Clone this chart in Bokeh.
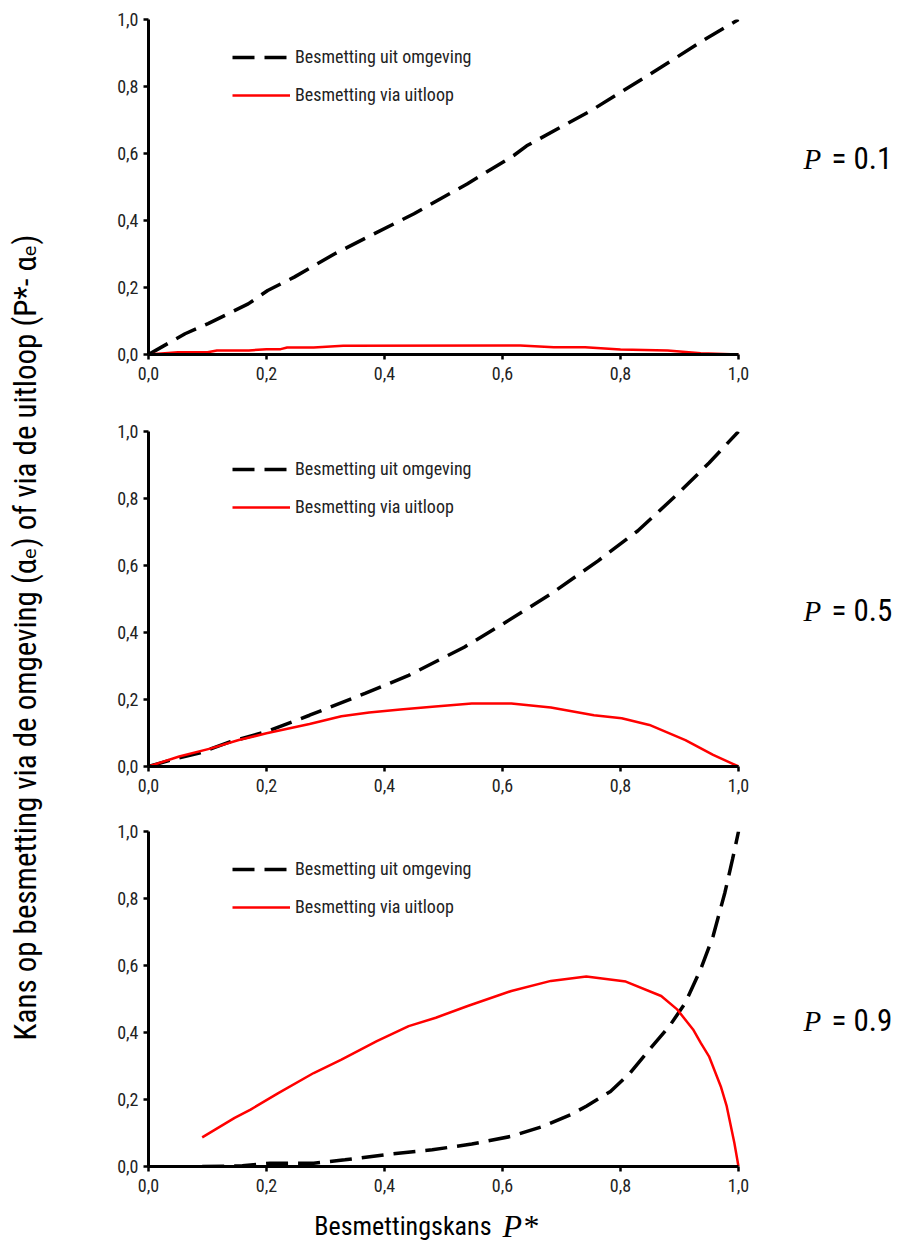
import math
from bokeh.plotting import figure
from bokeh.layouts import row, column
from bokeh.models import Range1d, FixedTicker, Label, Legend, LegendItem
from bokeh.embed import file_html
from bokeh.resources import INLINE

FONT = "Roboto Condensed, DejaVu Sans Condensed, Liberation Sans Narrow, Roboto, sans-serif"
SERIF = "Liberation Serif"

# ---------------- data ----------------
TICKS = [0.0, 0.2, 0.4, 0.6, 0.8, 1.0]
TICK_LABELS = ["0,0", "0,2", "0,4", "0,6", "0,8", "1,0"]

SERIES_ENV = "Besmetting uit omgeving"
SERIES_RUN = "Besmetting via uitloop"

# P = 0.1
p1_env_x = [0, 0.022, 0.062, 0.101, 0.169, 0.202, 0.247, 0.315, 0.382, 0.45, 0.495, 0.54, 0.619, 0.641, 0.749, 0.845, 0.947, 0.981, 1.0]
p1_env_y = [0, 0.022, 0.062, 0.092, 0.151, 0.191, 0.231, 0.300, 0.360, 0.42, 0.465, 0.509, 0.594, 0.623, 0.727, 0.831, 0.945, 0.980, 1.0]
p1_run_x = [0, 0.05, 0.10, 0.116, 0.17, 0.20, 0.224, 0.235, 0.28, 0.33, 0.63, 0.687, 0.74, 0.80, 0.88, 0.936, 1.0]
p1_run_y = [0, 0.007, 0.007, 0.012, 0.012, 0.016, 0.016, 0.021, 0.021, 0.026, 0.027, 0.022, 0.022, 0.015, 0.012, 0.004, 0]

# P = 0.5
p5_env_x = [0, 0.039, 0.086, 0.139, 0.20, 0.273, 0.367, 0.441, 0.535, 0.601, 0.682, 0.762, 0.829, 0.896, 0.95, 1.0]
p5_env_y = [0, 0.02, 0.04, 0.074, 0.104, 0.153, 0.218, 0.272, 0.356, 0.426, 0.515, 0.614, 0.703, 0.812, 0.906, 1.0]
p5_run_x = [0, 0.052, 0.106, 0.153, 0.20, 0.273, 0.327, 0.374, 0.427, 0.481, 0.548, 0.615, 0.682, 0.755, 0.802, 0.849, 0.91, 0.957, 1.0]
p5_run_y = [0, 0.03, 0.054, 0.079, 0.099, 0.127, 0.15, 0.161, 0.17, 0.178, 0.188, 0.188, 0.176, 0.153, 0.144, 0.124, 0.079, 0.035, 0]

# P = 0.9
p9_env_x = [0.091, 0.159, 0.206, 0.24, 0.28, 0.333, 0.40, 0.481, 0.548, 0.615, 0.669, 0.716, 0.742, 0.783, 0.816, 0.849, 0.883, 0.91, 0.936, 0.957, 0.977, 0.99, 1.0]
p9_env_y = [0.0, 0.002, 0.01, 0.01, 0.01, 0.02, 0.035, 0.05, 0.067, 0.09, 0.12, 0.155, 0.18, 0.224, 0.279, 0.349, 0.419, 0.489, 0.589, 0.688, 0.818, 0.918, 1.0]
p9_run_x = [0.091, 0.146, 0.173, 0.22, 0.28, 0.327, 0.387, 0.441, 0.487, 0.541, 0.615, 0.682, 0.742, 0.809, 0.869, 0.896, 0.923, 0.936, 0.95, 0.97, 0.98, 0.993, 1.0]
p9_run_y = [0.087, 0.145, 0.17, 0.219, 0.279, 0.319, 0.374, 0.419, 0.444, 0.479, 0.524, 0.554, 0.567, 0.552, 0.509, 0.469, 0.409, 0.369, 0.329, 0.239, 0.18, 0.07, 0]

PANEL_LABELS = ["= 0.1", "= 0.5", "= 0.9"]
Y_TITLE = "Kans op besmetting via de omgeving (\u03b1\u2091) of via de uitloop (P*- \u03b1\u2091)"
X_TITLE = "Besmettingskans"

# ---------------- layout ----------------
LEFT_W = 50
FIG_W = 903 - LEFT_W
BL = 148 - LEFT_W
PLOT_W = 590
X_END = (FIG_W - BL) / PLOT_W   # frame extends right to leave room for the P labels


def panel(h, top, bottom, ex, ey, rx, ry, plabel, ply):
    p = figure(width=FIG_W, height=h, x_range=Range1d(0, X_END), y_range=Range1d(0, 1),
               output_backend="svg", toolbar_location=None,
               min_border_left=BL, min_border_right=0,
               min_border_top=top, min_border_bottom=bottom)
    p.outline_line_color = None
    p.xgrid.grid_line_color = None
    p.ygrid.grid_line_color = None
    p.background_fill_color = None
    p.border_fill_color = "white"
    for ax in (p.xaxis[0], p.yaxis[0]):
        ax.ticker = FixedTicker(ticks=TICKS)
        ax.bounds = (0, 1)
        ax.major_label_overrides = dict(zip(TICKS, TICK_LABELS))
        ax.minor_tick_line_color = None
        ax.major_tick_in = 0
        ax.major_tick_out = 5
        ax.major_tick_line_width = 2.5
        ax.axis_line_width = 3
        ax.major_label_standoff = 5
        ax.major_label_text_font = FONT
        ax.major_label_text_font_size = "18px"
        ax.major_label_text_color = "#222222"
    p.xaxis[0].major_label_standoff = 7
    r_env = p.line(ex, ey, line_color="black", line_width=3.5, line_dash="22 10")
    r_run = p.line(rx, ry, line_color="#ff0000", line_width=2.5)
    leg = Legend(items=[LegendItem(label=SERIES_ENV, renderers=[r_env]),
                        LegendItem(label=SERIES_RUN, renderers=[r_run])],
                 location=(84, 249), orientation="vertical",
                 glyph_width=58, glyph_height=20, label_height=20, label_standoff=5,
                 spacing=17, padding=0, margin=0,
                 border_line_color=None, background_fill_alpha=0,
                 label_text_font=FONT, label_text_font_size="18px",
                 label_text_color="#222222")
    p.add_layout(leg)
    p.add_layout(Label(x=655, y=ply, x_units="screen", y_units="screen", text="P",
                       text_font=SERIF, text_font_style="italic", text_font_size="29px",
                       text_baseline="middle", text_align="left", text_color="black"))
    p.add_layout(Label(x=683, y=ply, x_units="screen", y_units="screen", text=plabel,
                       text_font=FONT, text_font_size="31px",
                       text_baseline="middle", text_align="left", text_color="black"))
    return p


f1 = panel(412, 19, 58, p1_env_x, p1_env_y, p1_run_x, p1_run_y, PANEL_LABELS[0], 196)
f2 = panel(400, 19, 46, p5_env_x, p5_env_y, p5_run_x, p5_run_y, PANEL_LABELS[1], 156)
f3 = panel(392, 19, 38, p9_env_x, p9_env_y, p9_run_x, p9_run_y, PANEL_LABELS[2], 146)


def text_strip(w, h):
    s = figure(width=w, height=h, x_range=Range1d(0, 1), y_range=Range1d(0, 1),
               output_backend="svg", toolbar_location=None,
               x_axis_type=None, y_axis_type=None, min_border=0)
    s.outline_line_color = None
    s.xgrid.grid_line_color = None
    s.ygrid.grid_line_color = None
    return s


XT_SHIFT = 98
xt = text_strip(FIG_W, 38)
xt.add_layout(Label(x=491 - LEFT_W - XT_SHIFT, y=17, x_units="screen", y_units="screen", text=X_TITLE,
                    text_font=FONT, text_font_size="26px",
                    text_baseline="middle", text_align="right", text_color="black"))
xt.add_layout(Label(x=502 - LEFT_W - XT_SHIFT, y=17, x_units="screen", y_units="screen", text="P*",
                    text_font=SERIF, text_font_style="italic", text_font_size="32px",
                    text_baseline="middle", text_align="left", text_color="black"))

lab = text_strip(LEFT_W, 1242)
lab.add_layout(Label(x=25, y=1242 - 637, x_units="screen", y_units="screen", text=Y_TITLE,
                     angle=math.pi / 2, text_font=FONT, text_font_size="31px",
                     text_baseline="middle", text_align="center", text_color="black"))

layout = row(lab, column(f1, f2, f3, xt, spacing=0), spacing=0)

open("out.html", "w").write(file_html(layout, INLINE))
